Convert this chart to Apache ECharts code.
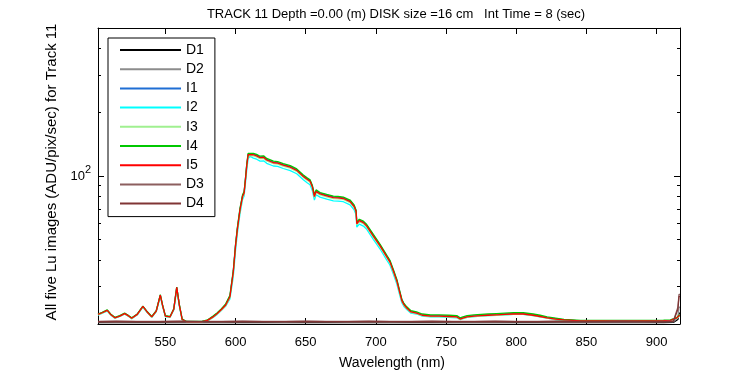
<!DOCTYPE html>
<html>
<head>
<meta charset="utf-8">
<script src="https://cdn.jsdelivr.net/npm/echarts@6/dist/echarts.min.js"></script>
<style>html,body{margin:0;padding:0;background:#fff}#c{width:750px;height:375px}</style>
</head>
<body>
<div id="c"></div>
<script>
// ---- data ----
const wavelengths = [502,505,508.6,511,514,517.5,521,523.5,526,530,
534,537,540.3,543.5,546.4,548,550,553.3,556,558.1,
560,562,565,570,576,580,584,587,590,593,
596,598.4,600,601.3,603.2,605,606.1,607,608,609,
610.3,612.7,615,617.5,620,622.2,627,630,634,639,
643.6,648.3,651,653.1,654.7,656.2,657.4,660.2,665,669.7,
673,676.8,681.6,684.5,685.9,686.4,688.2,691.1,693.5,698.2,
703,707.8,710,712.5,715,716.8,718.5,720,722,725,
729,733,739,745,752,757.7,760,762,765,770,
775,780,786,792,798,805,812,817,822,828,
834,840,846,855,865,875,885,895,905,910,
914.5,916.5];

const i1 = [22.2,22.6,23.2,22.2,21.4,21.8,22.4,21.9,21.3,22.2,
24.2,22.8,21.6,23.0,27.4,24.5,21.8,21.6,23.5,29.8,
24.5,21.0,20.5,20.5,20.5,20.8,21.7,22.5,23.5,24.7,
27.0,35.3,47,56.3,69.8,80.5,83.6,95.7,112.8,127,
129.4,126.9,125.4,122.8,123.3,119.8,116.3,115.8,113.3,110.8,
107,100.2,97.2,95.2,89.6,80.6,85.1,82.9,81.1,79.6,
79.4,78.9,76.2,72.3,68.5,59.9,61.9,60.6,58.4,52.4,
47.1,41.8,39.6,35.7,32,28.7,26,24.8,23.9,22.9,
22.6,22.1,21.9,21.9,21.8,21.7,21.2,21.4,21.7,21.9,
22.0,22.1,22.2,22.3,22.4,22.4,22.1,21.8,21.5,21.2,
20.9,20.8,20.7,20.7,20.7,20.7,20.7,20.7,20.75,20.8,
21.4,22.0];

const i2 = [22.0,22.5,23.0,22.1,21.3,21.7,22.3,21.8,21.2,22.1,
24.0,22.7,21.5,22.9,27.0,24.3,21.7,21.5,23.3,29.2,
24.2,20.9,20.5,20.5,20.5,20.7,21.5,22.2,23.2,24.3,
26.3,33.5,44.5,53.5,66.5,77.5,80.5,91.5,107,121,
124,121.5,120,117.5,118,114.8,111.5,111,108.5,106,
102.5,96,93,91,85.5,77,81.5,79.5,77.8,76.3,
76.1,75.6,73,69.3,65.6,57.3,59.3,58,56,50.2,
45.2,40,38,34.3,30.8,27.7,25.2,24.2,23.4,22.5,
22.3,21.8,21.6,21.6,21.5,21.4,21.0,21.2,21.5,21.7,
21.8,21.9,22.0,22.1,22.2,22.2,21.9,21.6,21.3,21.0,
20.8,20.7,20.65,20.65,20.65,20.65,20.65,20.65,20.7,20.75,
21.3,21.9];

const i3 = [22.1,22.5,23.1,22.1,21.3,21.7,22.3,21.8,21.2,22.1,
24.1,22.7,21.5,22.9,27.2,24.4,21.7,21.5,23.4,29.5,
24.4,20.9,20.5,20.5,20.5,20.7,21.5,22.3,23.3,24.4,
26.6,34.6,46,55.2,68.3,79,82,94,110.5,124.5,
127,124.5,123,120.7,121,117.7,114.3,113.8,111.3,108.8,
105.2,98.5,95.5,93.5,88,79.2,83.6,81.4,79.6,78.2,
78,77.5,74.9,71,67.3,58.9,60.8,59.6,57.4,51.5,
46.3,41.1,38.9,35.1,31.5,28.2,25.6,24.5,23.6,22.7,
22.4,21.9,21.7,21.7,21.6,21.5,21.0,21.2,21.5,21.7,
21.8,21.9,22.0,22.1,22.2,22.2,21.9,21.6,21.3,21.0,
20.8,20.7,20.65,20.65,20.65,20.65,20.65,20.65,20.7,20.75,
21.3,21.9];

const i4 = [22.3,22.7,23.3,22.3,21.5,21.9,22.5,22.0,21.4,22.3,
24.3,22.9,21.7,23.1,27.5,24.6,21.9,21.7,23.6,29.9,
24.6,21.1,20.6,20.6,20.6,20.9,21.8,22.6,23.6,24.9,
27.3,35.8,47.5,57,70.5,81.5,84.5,96.5,114,128,
130.5,128,126.5,124,124.5,121,117.5,117,114.5,112,
108,101,98,96,90.5,81.5,86,83.5,81.8,80.3,
80,79.5,77,73,69,60.5,62.5,61.2,59,53,
47.6,42.2,40,36.1,32.4,29,26.2,25,24.1,23.1,
22.8,22.3,22.1,22.1,22.0,21.9,21.4,21.6,21.9,22.1,
22.2,22.3,22.4,22.5,22.6,22.6,22.3,22.0,21.6,21.3,
21.0,20.9,20.8,20.8,20.8,20.8,20.8,20.8,20.85,20.9,
21.5,22.1];

const i5 = [22.2,22.6,23.2,22.2,21.4,21.8,22.4,21.9,21.3,22.2,
24.2,22.8,21.6,23.0,27.4,24.5,21.8,21.6,23.5,29.8,
24.5,21.0,20.5,20.5,20.5,20.8,21.6,22.4,23.4,24.6,
26.9,35.2,46.8,56,69.3,80,83,95,112,126,
128.5,126,124.5,122,122.5,119,115.5,115,112.5,110,
106.3,99.5,96.5,94.5,89,80,84.5,82.3,80.5,79,
78.8,78.3,75.7,71.8,68,59.5,61.5,60.2,58,52,
46.8,41.5,39.3,35.5,31.8,28.5,25.8,24.7,23.8,22.8,
22.5,22.0,21.8,21.8,21.7,21.6,21.1,21.3,21.6,21.8,
21.9,22.0,22.1,22.2,22.3,22.3,22.0,21.7,21.4,21.1,
20.9,20.8,20.7,20.7,20.7,20.7,20.7,20.7,20.75,20.8,
21.4,22.0];

const darkWave = [502,515,530,545,560,575,590,605,620,635,650,665,680,695,710,725,740,755,770,785,800,815,830,845,860,875,890,905,912,915.2,916,916.7];
const d1 = [20.3,20.35,20.3,20.35,20.3,20.3,20.35,20.3,20.3,20.35,20.3,20.3,20.35,20.3,20.3,20.35,20.3,20.3,20.3,20.35,20.3,20.3,20.35,20.3,20.3,20.3,20.35,20.3,20.35,21.0,22.5,22.5];
const d2 = [20.45,20.4,20.45,20.45,20.4,20.45,20.4,20.45,20.45,20.4,20.45,20.45,20.4,20.45,20.4,20.45,20.45,20.4,20.45,20.4,20.45,20.45,20.4,20.45,20.4,20.45,20.4,20.45,20.5,21.5,24.0,24.0];
const d3 = [20.6,20.65,20.6,20.6,20.65,20.6,20.6,20.65,20.6,20.6,20.65,20.6,20.6,20.65,20.6,20.6,20.65,20.6,20.6,20.65,20.6,20.6,20.65,20.6,20.6,20.65,20.6,20.6,20.7,24.0,27.6,27.6];
const d4 = [20.5,20.55,20.5,20.5,20.55,20.5,20.5,20.55,20.5,20.5,20.55,20.5,20.5,20.55,20.5,20.5,20.55,20.5,20.5,20.55,20.5,20.5,20.55,20.5,20.5,20.55,20.5,20.5,20.6,23.5,27.0,27.0];

const seriesNames = ['D1','D2','I1','I2','I3','I4','I5','D3','D4'];
const xTicks = [550,600,650,700,750,800,850,900];
const yMajorTicks = [100];
const yMinorTicks = [20,30,40,50,60,70,80,90,200,300,400];
const titleText = 'TRACK 11 Depth =0.00 (m) DISK size =16 cm   Int Time = 8 (sec)';
const xName = 'Wavelength (nm)';
const yName = 'All five Lu images (ADU/pix/sec) for Track 11';

// ---- chart ----
const FONT = '"Liberation Sans", Arial, sans-serif';
const colors = {D1:'#000000',D2:'#8c8c8c',I1:'#1f6ed4',I2:'#00ffff',I3:'#a0f090',I4:'#00c800',I5:'#ff0000',D3:'#8c5f5f',D4:'#803535'};
const seriesData = {
  D1: darkWave.map((w,k)=>[w,d1[k]]),
  D2: darkWave.map((w,k)=>[w,d2[k]]),
  I1: wavelengths.map((w,k)=>[w,i1[k]]),
  I2: wavelengths.map((w,k)=>[w,i2[k]]),
  I3: wavelengths.map((w,k)=>[w,i3[k]]),
  I4: wavelengths.map((w,k)=>[w,i4[k]]),
  I5: wavelengths.map((w,k)=>[w,i5[k]]),
  D3: darkWave.map((w,k)=>[w,d3[k]]),
  D4: darkWave.map((w,k)=>[w,d4[k]])
};

const XMIN = 502, XMAX = 916.7, YMIN = 20, YMAX = 500;
const lineBlack = {show:true, lineStyle:{color:'#000', width:1}};

function xAx(pos, labels) {
  return {
    type:'value', position:pos, min:XMIN, max:XMAX,
    axisLine: lineBlack,
    splitLine:{show:false},
    axisTick:{show:true, inside:true, length:6, customValues:xTicks, lineStyle:{color:'#000'}},
    axisLabel:{show:labels, customValues:xTicks, color:'#000', fontFamily:FONT, fontSize:13, margin:12},
    name: labels ? xName : '', nameLocation:'middle', nameGap:32,
    nameTextStyle:{color:'#000', fontFamily:FONT, fontSize:14, padding:[0,0,0,6]}
  };
}
function yAx(pos, ticks, len, labels, line) {
  return {
    type:'log', logBase:10, position:pos, min:YMIN, max:YMAX,
    axisLine: line ? lineBlack : {show:false},
    splitLine:{show:false},
    axisTick:{show:true, inside:true, length:len, customValues:ticks, lineStyle:{color:'#000'}},
    axisLabel:{show:labels, customValues:ticks, margin:7, formatter:function(){return '{b|10}{s|2}';},
      rich:{b:{fontSize:13, fontFamily:FONT, color:'#000'}, s:{fontSize:11, fontFamily:FONT, color:'#000', padding:[0,0,12,0]}}},
    name: labels ? yName : '', nameLocation:'middle', nameGap:36, nameRotate:90,
    nameTextStyle:{color:'#000', fontFamily:FONT, fontSize:15, padding:[0,0,0,8]}
  };
}

const chart = echarts.init(document.getElementById('c'), null, {renderer:'canvas'});
chart.setOption({
  animation:false,
  backgroundColor:'#fff',
  title:{text:titleText, left:391, top:3, textAlign:'center',
    textStyle:{color:'#000', fontFamily:FONT, fontSize:13, fontWeight:'normal'}},
  grid:{left:98, right:70, top:28, bottom:45, containLabel:false},
  legend:{
    orient:'vertical', left:108, top:38,
    data:seriesNames,
    itemWidth:61, itemHeight:14, itemGap:5.2,
    padding:[5,11,6,11],
    borderColor:'#000', borderWidth:1, backgroundColor:'#fff',
    itemStyle:{opacity:0},
    textStyle:{color:'#000', fontFamily:FONT, fontSize:14},
    selectedMode:false
  },
  xAxis:[xAx('bottom', true), xAx('top', false)],
  yAxis:[
    yAx('left', yMajorTicks, 6, true, true),
    yAx('left', yMinorTicks, 3, false, false),
    yAx('right', yMajorTicks, 6, false, true),
    yAx('right', yMinorTicks, 3, false, false)
  ],
  series: seriesNames.map(n=>({
    name:n, type:'line', xAxisIndex:0, yAxisIndex:0,
    data:seriesData[n], symbol:'none', showSymbol:false,
    lineStyle:{color:colors[n], width:1.3}, itemStyle:{color:colors[n]},
    emphasis:{disabled:true}
  }))
});
</script>
</body>
</html>
